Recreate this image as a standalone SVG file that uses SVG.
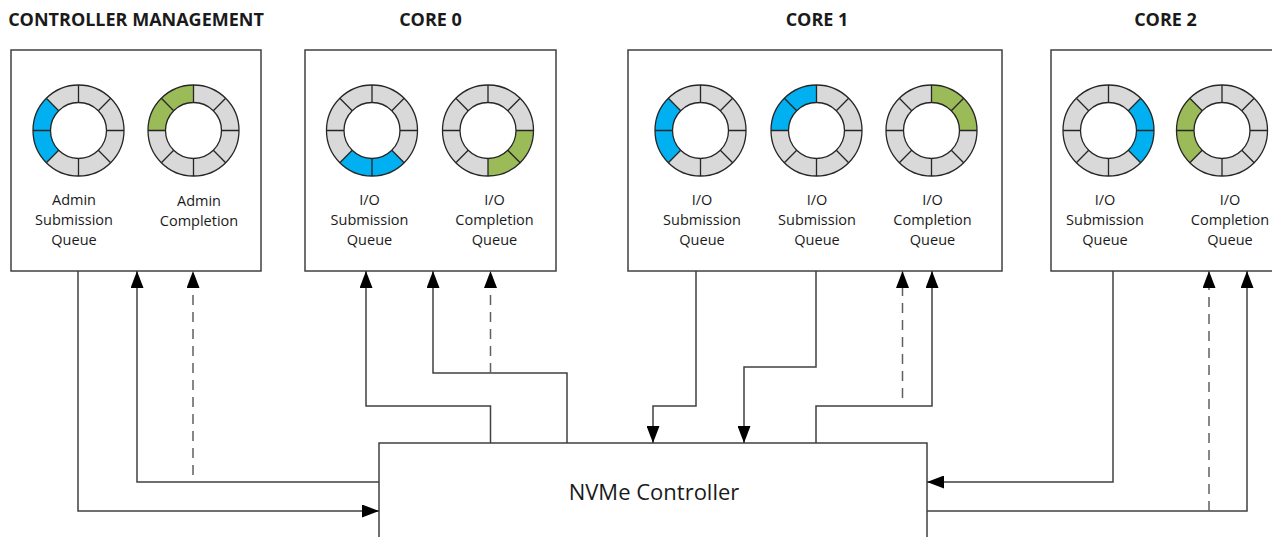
<svg xmlns="http://www.w3.org/2000/svg" width="1272" height="537" viewBox="0 0 1272 537">
<style>
.box{fill:#fff;stroke:#404040;stroke-width:1.5}
.title{font-family:"Open Sans","Liberation Sans",sans-serif;font-weight:bold;font-size:18px;fill:#1a1a1a;text-anchor:middle}
.lbl{font-family:"Open Sans","Liberation Sans",sans-serif;font-size:14.5px;fill:#1a1a1a;text-anchor:middle}
.big{font-family:"Open Sans","Liberation Sans",sans-serif;font-size:22px;fill:#1a1a1a;text-anchor:middle}
.conn{fill:none;stroke:#404040;stroke-width:1.5}
.dash{fill:none;stroke:#606060;stroke-width:1.5;stroke-dasharray:10,7}
.blue{fill:#00B0F0}
.green{fill:#9BBB59}
</style>
<defs>
<marker id="arr" markerUnits="userSpaceOnUse" markerWidth="18" markerHeight="13" refX="17" refY="6.5" orient="auto">
<path d="M0,0 L17,6.5 L0,13 Z" fill="#000"/>
</marker>
<g id="ringBase">
<circle r="36.75" fill="none" stroke="#D9D9D9" stroke-width="17.5"/>
</g>
<g id="ringLines" fill="none" stroke="#262626" stroke-width="1.3">
<circle r="45.5"/>
<circle r="28"/>
<path d="M28,0H45.5M-28,0H-45.5M0,28V45.5M0,-28V-45.5M19.8,19.8L32.17,32.17M-19.8,19.8L-32.17,32.17M19.8,-19.8L32.17,-32.17M-19.8,-19.8L-32.17,-32.17"/>
</g>
<path id="segL" d="M-32.17,32.17A45.5,45.5 0 0 1 -32.17,-32.17L-19.8,-19.8A28,28 0 0 0 -19.8,19.8Z"/>
<path id="segUL" d="M-45.5,0A45.5,45.5 0 0 1 0,-45.5L0,-28A28,28 0 0 0 -28,0Z"/>
<path id="segB" d="M32.17,32.17A45.5,45.5 0 0 1 -32.17,32.17L-19.8,19.8A28,28 0 0 0 19.8,19.8Z"/>
<path id="segLR" d="M45.5,0A45.5,45.5 0 0 1 0,45.5L0,28A28,28 0 0 0 28,0Z"/>
<path id="segUR" d="M0,-45.5A45.5,45.5 0 0 1 45.5,0L28,0A28,28 0 0 0 0,-28Z"/>
<path id="segR" d="M32.17,-32.17A45.5,45.5 0 0 1 32.17,32.17L19.8,19.8A28,28 0 0 0 19.8,-19.8Z"/>
</defs>

<g id="controller-management">
<text class="title" x="136" y="26">CONTROLLER MANAGEMENT</text>
<rect class="box" x="11" y="50" width="250" height="221"/>
<g transform="translate(78.5,130.5)"><use href="#ringBase"/><use href="#segL" class="blue"/><use href="#ringLines"/></g>
<g transform="translate(193.5,130.5)"><use href="#ringBase"/><use href="#segUL" class="green"/><use href="#ringLines"/></g>
<text class="lbl" x="74" y="205">Admin</text>
<text class="lbl" x="74" y="225">Submission</text>
<text class="lbl" x="74" y="245">Queue</text>
<text class="lbl" x="199" y="206">Admin</text>
<text class="lbl" x="199" y="226">Completion</text>
</g>

<g id="core0">
<text class="title" x="430.5" y="26">CORE 0</text>
<rect class="box" x="305" y="50" width="251" height="221"/>
<g transform="translate(372,130.5)"><use href="#ringBase"/><use href="#segB" class="blue"/><use href="#ringLines"/></g>
<g transform="translate(488,130.5)"><use href="#ringBase"/><use href="#segLR" class="green"/><use href="#ringLines"/></g>
<text class="lbl" x="369.5" y="205">I/O</text>
<text class="lbl" x="369.5" y="225">Submission</text>
<text class="lbl" x="369.5" y="245">Queue</text>
<text class="lbl" x="494.5" y="205">I/O</text>
<text class="lbl" x="494.5" y="225">Completion</text>
<text class="lbl" x="494.5" y="245">Queue</text>
</g>

<g id="core1">
<text class="title" x="817" y="26">CORE 1</text>
<rect class="box" x="628" y="50" width="374" height="221"/>
<g transform="translate(700.5,130.5)"><use href="#ringBase"/><use href="#segL" class="blue"/><use href="#ringLines"/></g>
<g transform="translate(816.5,130.5)"><use href="#ringBase"/><use href="#segUL" class="blue"/><use href="#ringLines"/></g>
<g transform="translate(931.5,130.5)"><use href="#ringBase"/><use href="#segUR" class="green"/><use href="#ringLines"/></g>
<text class="lbl" x="702" y="205">I/O</text>
<text class="lbl" x="702" y="225">Submission</text>
<text class="lbl" x="702" y="245">Queue</text>
<text class="lbl" x="817" y="205">I/O</text>
<text class="lbl" x="817" y="225">Submission</text>
<text class="lbl" x="817" y="245">Queue</text>
<text class="lbl" x="932.5" y="205">I/O</text>
<text class="lbl" x="932.5" y="225">Completion</text>
<text class="lbl" x="932.5" y="245">Queue</text>
</g>

<g id="core2">
<text class="title" x="1165.5" y="26">CORE 2</text>
<rect class="box" x="1051" y="50" width="230" height="221"/>
<g transform="translate(1108.5,130.5)"><use href="#ringBase"/><use href="#segR" class="blue"/><use href="#ringLines"/></g>
<g transform="translate(1222,130.5)"><use href="#ringBase"/><use href="#segL" class="green"/><use href="#ringLines"/></g>
<text class="lbl" x="1105" y="205">I/O</text>
<text class="lbl" x="1105" y="225">Submission</text>
<text class="lbl" x="1105" y="245">Queue</text>
<text class="lbl" x="1230" y="205">I/O</text>
<text class="lbl" x="1230" y="225">Completion</text>
<text class="lbl" x="1230" y="245">Queue</text>
</g>

<g id="nvme-controller">
<rect class="box" x="379" y="443" width="548" height="120"/>
<text class="big" x="654" y="500">NVMe Controller</text>
</g>

<g id="connectors">
<path class="conn" d="M78,271V511H379" marker-end="url(#arr)"/>
<path class="conn" d="M379,482H137V271" marker-end="url(#arr)"/>
<path class="dash" d="M193,475V271" marker-end="url(#arr)"/>
<path class="conn" d="M490.5,443V406H366V271" marker-end="url(#arr)"/>
<path class="conn" d="M567,443V373H433V271" marker-end="url(#arr)"/>
<path class="dash" d="M490.5,373V271" marker-end="url(#arr)"/>
<path class="conn" d="M696,271V406H653V443" marker-end="url(#arr)"/>
<path class="conn" d="M816,271V367H744V443" marker-end="url(#arr)"/>
<path class="conn" d="M816,443V406H932V271" marker-end="url(#arr)"/>
<path class="dash" d="M902.5,398V271" marker-end="url(#arr)"/>
<path class="conn" d="M1113,271V482H927" marker-end="url(#arr)"/>
<path class="conn" d="M927,511H1247V271" marker-end="url(#arr)"/>
<path class="dash" d="M1209,511V271" marker-end="url(#arr)"/>
</g>
</svg>
